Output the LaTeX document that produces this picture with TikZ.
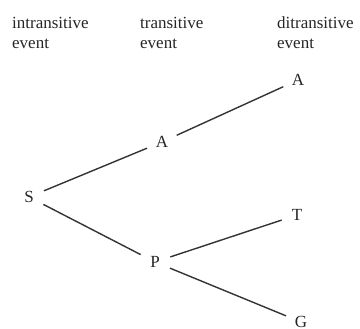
\documentclass[tikz,border=0pt]{standalone}
\usepackage{fontspec}
\setmainfont{Liberation Serif}
\begin{document}
\begin{tikzpicture}[x=1pt,y=-1pt,
  hdr/.style={anchor=north west,inner sep=0pt,align=left,text=black!85,
    font=\fontsize{17}{20}\selectfont},
  lbl/.style={circle,inner sep=0pt,minimum size=32pt,text=black!85,
    font=\fontsize{17}{20}\selectfont},
  edge/.style={draw=black!80,line width=1.4pt}]
\useasboundingbox (0,0) rectangle (360,329);
\node[hdr] (h1) at (12,17) {intransitive\\event};
\node[hdr] (h2) at (140,17) {transitive\\event};
\node[hdr] (h3) at (277,17) {ditransitive\\event};
\node[lbl] (S) at (29,197) {S};
\node[lbl] (A1) at (162,142) {A};
\node[lbl] (A2) at (298,80) {A};
\node[lbl] (P) at (155,262) {P};
\node[lbl] (T) at (297,215) {T};
\node[lbl] (G) at (301,322) {G};
\draw[edge] (S) -- (A1);
\draw[edge] (S) -- (P);
\draw[edge] (A1) -- (A2);
\draw[edge] (P) -- (T);
\draw[edge] (P) -- (G);
\end{tikzpicture}
\end{document}
